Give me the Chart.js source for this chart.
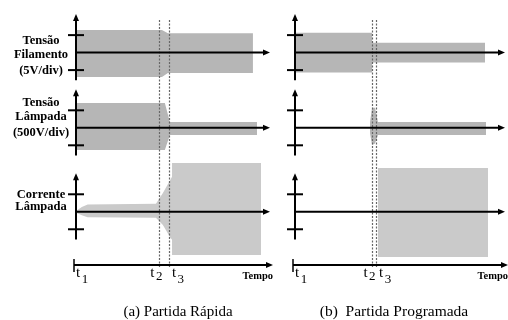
<!DOCTYPE html>
<html>
<head>
<meta charset="utf-8">
<script src="https://cdn.jsdelivr.net/npm/chart.js@4.4.1/dist/chart.umd.min.js"></script>
<style>
  html, body { margin: 0; padding: 0; background: #fff; }
  #wrap { position: relative; width: 508px; height: 320px; }
  #wrap canvas { position: absolute; left: 0; top: 0; }
</style>
</head>
<body>
<div id="wrap">
  <canvas id="rapida" width="508" height="320"></canvas>
  <canvas id="programada" width="508" height="320"></canvas>
</div>
<script>
const rowLabels = [
  ["Tensão", "Filamento", "(5V/div)"],
  ["Tensão", "Lâmpada", "(500V/div)"],
  ["Corrente", "Lâmpada"]
];
const timeTicks = ["t1", "t2", "t3"];
const timeTitle = "Tempo";
const captions = ["(a) Partida Rápida", "(b)  Partida Programada"];

// time in arbitrary units (0..10), amplitudes in divisions
// (a) Partida Rápida
const rapidaMarks = [0, 4.28, 4.79];
const rapidaFilT = [0, 4.43, 4.74, 9.12];
const rapidaFilHi = [1.29, 1.29, 1.1, 1.1];
const rapidaFilLo = [-1.39, -1.39, -1.17, -1.17];
const rapidaVT = [0, 4.58, 4.84, 9.33];
const rapidaVHi = [1.42, 1.42, 0.33, 0.33];
const rapidaVLo = [-1.27, -1.27, -0.41, -0.41];
const rapidaIT = [0, 0.3, 0.6, 4.12, 4.48, 4.85, 4.95, 4.95, 9.54];
const rapidaIHi = [0.05, 0.28, 0.42, 0.46, 1.07, 1.8, 2.0, 2.79, 2.79];
const rapidaILo = [-0.05, -0.2, -0.32, -0.34, -0.75, -1.45, -1.6, -2.47, -2.47];

// (b) Partida Programada
const progMarks = [0, 3.67, 3.86];
const progFilT = [0, 3.67, 3.67, 9.05];
const progFilHi = [1.14, 1.14, 0.57, 0.57];
const progFilLo = [-1.14, -1.14, -0.57, -0.57];
const progVT = [3.57, 3.67, 3.81, 3.95, 9.1];
const progVHi = [0.3, 1.15, 1.15, 0.33, 0.33];
const progVLo = [-0.3, -0.98, -0.9, -0.41, -0.41];
const progIT = [3.95, 9.19];
const progIHi = [2.5, 2.5];
const progILo = [-2.58, -2.58];

const darkGray = "#b6b6b6";
const lightGray = "#cacaca";
const serif = "'Liberation Serif', 'DejaVu Serif', serif";

function envelope(t, hi, lo, yAxisID, color) {
  return [
    { data: t.map((x, i) => ({ x, y: hi[i] })), yAxisID, fill: "+1", backgroundColor: color, borderWidth: 0, clip: false },
    { data: t.map((x, i) => ({ x, y: lo[i] })), yAxisID, fill: false, borderWidth: 0, clip: false }
  ];
}

function drawLine(ctx, ax, ay, bx, by) {
  ctx.beginPath(); ctx.moveTo(ax, ay); ctx.lineTo(bx, by); ctx.stroke();
}
function arrowUp(ctx, x, y) {
  ctx.beginPath(); ctx.moveTo(x, y); ctx.lineTo(x - 3, y + 7); ctx.lineTo(x + 3, y + 7); ctx.closePath(); ctx.fill();
}
function arrowRight(ctx, x, y) {
  ctx.beginPath(); ctx.moveTo(x, y); ctx.lineTo(x - 7, y - 3); ctx.lineTo(x - 7, y + 3); ctx.closePath(); ctx.fill();
}

// label baselines relative to each row's zero line (px)
const labelOffsets = [[-9, 5, 21], [-22, -7.5, 8.5], [-14, -1.5]];

const schemePlugin = {
  id: "scheme",
  afterDatasetsDraw(chart, args, opts) {
    const ctx = chart.ctx;
    const xs = chart.scales.x;
    const rows = ["y1", "y2", "y3"].map(id => chart.scales[id]);
    const area = chart.chartArea;
    const x0 = xs.getPixelForValue(0), x1 = xs.getPixelForValue(10);
    const ty = area.bottom - 1;
    ctx.save();

    // dotted markers t2, t3
    ctx.strokeStyle = "#666";
    ctx.lineWidth = 1.2;
    ctx.setLineDash([2, 1.5]);
    opts.marks.slice(1).forEach(t => {
      const px = Math.round(xs.getPixelForValue(t)) + 0.5;
      drawLine(ctx, px, rows[0].getPixelForValue(1.87), px, ty + 3);
    });
    ctx.setLineDash([]);

    // row axes
    ctx.strokeStyle = "#000";
    ctx.fillStyle = "#000";
    ctx.lineWidth = 2;
    rows.forEach((ys, r) => {
      const y0 = ys.getPixelForValue(0);
      const top = ys.getPixelForValue(2.2), bot = ys.getPixelForValue(-1.58);
      drawLine(ctx, x0, top + 5, x0, bot);
      arrowUp(ctx, x0, top);
      drawLine(ctx, x0, y0, x1 - 5, y0);
      arrowRight(ctx, x1, y0);
      [1, -1].forEach(v => {
        const py = ys.getPixelForValue(v);
        drawLine(ctx, x0 - 8, py, x0 + 8, py);
      });
      if (opts.labels) {
        ctx.font = "bold 12.5px " + serif;
        ctx.textAlign = "center";
        rowLabels[r].forEach((s, k) => ctx.fillText(s, x0 - 35, y0 + labelOffsets[r][k]));
      }
    });

    // time axis
    drawLine(ctx, x0 - 2, ty, x1 - 2, ty);
    arrowRight(ctx, x1 + 3, ty);
    ctx.lineWidth = 1.5;
    drawLine(ctx, x0 - 2, ty - 6, x0 - 2, ty + 7);

    ctx.textAlign = "left";
    opts.marks.forEach((t, i) => {
      const label = timeTicks[i];
      ctx.font = "15px " + serif;
      const wt = ctx.measureText(label[0]).width;
      ctx.font = "13px " + serif;
      const ws = ctx.measureText(label.slice(1)).width;
      const px = xs.getPixelForValue(t);
      let left;
      if (i === 0) left = px;
      else if (i === 1) left = px + 3 - wt - ws - 1;
      else left = px + 3;
      ctx.font = "15px " + serif;
      ctx.fillText(label[0], left, ty + 12);
      ctx.font = "13px " + serif;
      ctx.fillText(label.slice(1), left + wt + 1.5, ty + (i === 1 ? 15 : 18));
    });
    ctx.font = "bold 10.5px " + serif;
    ctx.textAlign = "right";
    ctx.fillText(timeTitle, x1 + 3, ty + 14);

    // caption
    ctx.font = opts.captionFont + "px " + serif;
    ctx.textAlign = "center";
    ctx.fillText(opts.caption, opts.captionX, 316);
    ctx.restore();
  }
};

function makeChart(id, sets, padding, plug) {
  return new Chart(document.getElementById(id), {
    type: "line",
    data: { datasets: sets },
    plugins: [schemePlugin],
    options: {
      responsive: false,
      animation: false,
      events: [],
      layout: { padding },
      elements: { point: { radius: 0, hoverRadius: 0 }, line: { tension: 0 } },
      plugins: { legend: { display: false }, tooltip: { enabled: false }, scheme: plug },
      scales: {
        x: { type: "linear", min: 0, max: 10, display: false },
        y1: { type: "linear", min: -2.2, max: 2.55, display: false, stack: "rows", stackWeight: 4.75, weight: 3 },
        y2: { type: "linear", min: -2.55, max: 2.1, display: false, stack: "rows", stackWeight: 4.65, weight: 2 },
        y3: { type: "linear", min: -3.1, max: 2.25, display: false, stack: "rows", stackWeight: 5.35, weight: 1 }
      }
    }
  });
}

makeChart("rapida", [
  ...envelope(rapidaFilT, rapidaFilHi, rapidaFilLo, "y1", darkGray),
  ...envelope(rapidaVT, rapidaVHi, rapidaVLo, "y2", darkGray),
  ...envelope(rapidaIT, rapidaIHi, rapidaILo, "y3", lightGray)
], { left: 76, right: 238, top: 8, bottom: 54 },
  { marks: rapidaMarks, labels: true, caption: captions[0], captionX: 178, captionFont: 15 });

makeChart("programada", [
  ...envelope(progFilT, progFilHi, progFilLo, "y1", darkGray),
  ...envelope(progVT, progVHi, progVLo, "y2", darkGray),
  ...envelope(progIT, progIHi, progILo, "y3", lightGray)
], { left: 295, right: 3, top: 8, bottom: 54 },
  { marks: progMarks, labels: false, caption: captions[1], captionX: 394, captionFont: 15.5 });
</script>
</body>
</html>
